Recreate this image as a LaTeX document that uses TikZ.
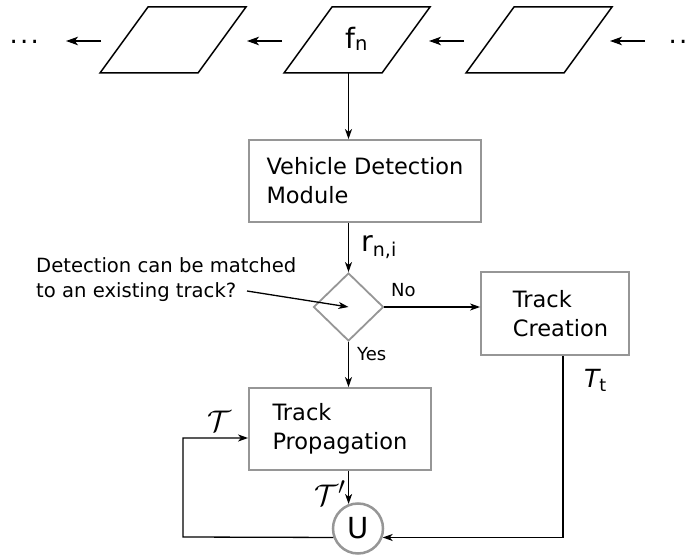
\documentclass[tikz,border=0pt]{standalone}
\usepackage{fontspec}
\setmainfont{DejaVu Sans}
\usetikzlibrary{arrows.meta,shapes.geometric}
\definecolor{bordergray}{RGB}{150,150,150}
\tikzset{
  box/.style={draw=bordergray, line width=1.8pt, align=left, font=\fontsize{22.5}{29}\selectfont},
  dia/.style={draw=bordergray, line width=1.8pt, diamond, minimum width=70pt, minimum height=68pt, inner sep=0pt},
  unode/.style={draw=bordergray, line width=2.5pt, circle, minimum size=50pt, inner sep=0pt, font=\fontsize{29}{30}\selectfont},
  conn/.style={draw, line width=1.3pt, -{Stealth[length=10pt,width=7pt,inset=2.8pt]}},
  tconn/.style={draw, line width=1.5pt, -{Stealth[length=12pt,width=8.5pt,inset=3.2pt]}},
  para/.style={draw, line width=1.5pt, line join=miter},
  lab/.style={inner sep=0pt, anchor=base west},
}
\newcommand{\calT}{\scalebox{1.2}{\Huge$\mathcal{T}$}}
\newcommand{\calTp}{\scalebox{1.2}{\Huge$\mathcal{T}'$}}
\begin{document}
\begin{tikzpicture}[x=1pt,y=-1pt]
\useasboundingbox (0,0) rectangle (686,556);
% frames
\draw[para] (100,73) -- (198,73) -- (246,7) -- (148,7) -- cycle;
\draw[para] (284,73) -- (382,73) -- (430,7) -- (332,7) -- cycle;
\draw[para] (466,73) -- (564,73) -- (612,7) -- (514,7) -- cycle;
\node[lab, font=\fontsize{28}{30}\selectfont] (fn) at (345,48.3) {f\raisebox{-2.5pt}{\fontsize{19.5}{20}\selectfont n}};
\node[lab, font=\fontsize{26}{28}\selectfont] (dl) at (9.5,44) {.\hspace{2.2pt}.\hspace{2.2pt}.};
\node[lab, font=\fontsize{26}{28}\selectfont] (dr) at (668.5,44) {.\hspace{2.2pt}.\hspace{2.2pt}.};
\coordinate (a1s) at (101,41); \coordinate (a1e) at (66,41);
\coordinate (a2s) at (282,41); \coordinate (a2e) at (247,41);
\coordinate (a3s) at (464,41); \coordinate (a3e) at (429,41);
\coordinate (a4s) at (645,41); \coordinate (a4e) at (610,41);
\draw[tconn] (a1s) -- (a1e);
\draw[tconn] (a2s) -- (a2e);
\draw[tconn] (a3s) -- (a3e);
\draw[tconn] (a4s) -- (a4e);
% boxes
\node[box, minimum width=232pt, minimum height=82pt] (vdm) at (365,181) {Vehicle Detection\\Module};
\node[box, minimum width=148pt, minimum height=83pt] (tc) at (555,313.5) {\hspace*{11pt}Track\\\hspace*{11pt}Creation};
\node[box, minimum width=182pt, minimum height=82pt] (tp) at (340,429) {Track\\Propagation};
\node[dia] (dm) at (348.5,307) {};
\node[unode] (u) at (358,528.5) {U};
% labels
\node[lab, font=\fontsize{28.5}{30}\selectfont] (rni) at (361,251.7) {r\raisebox{-5pt}{\fontsize{19}{20}\selectfont n,i}};
\node[lab, font=\fontsize{18}{20}\selectfont] (no) at (391,297) {No};
\node[lab, font=\fontsize{18}{20}\selectfont] (yes) at (357,360) {Yes};
\node[lab] (tl) at (207,431) {\calT};
\node[lab] (tpl) at (314,505) {\calTp};
\node[lab, font=\fontsize{25}{27}\selectfont] (ttl) at (584,387) {\itshape T\upshape\raisebox{-5pt}{\fontsize{17.5}{19}\selectfont t}};
\node[inner sep=0pt, anchor=north west, align=left, font=\fontsize{19.6}{25}\selectfont] (cm) at (36,257) {Detection can be matched\\to an existing track?};
% connectors
\coordinate (p2b) at (348.5,73);
\draw[conn] (p2b) -- (p2b |- vdm.north);
\draw[conn] (dm.north |- vdm.south) -- (dm.north);
\draw[conn] (dm.east) -- (dm.east -| tc.west);
\draw[conn] (dm.south) -- (dm.south |- tp.north);
\coordinate (cmend) at (247,291);
\draw[conn] (cmend) -- (dm.center);
\draw[conn] (u.111 |- tp.south) -- (u.111);
\draw[conn] ([xshift=8pt]tc.south) |- (u.340);
\coordinate (loopc) at (183,537);
\draw[conn] (u.200) -- (loopc) |- ([yshift=-9pt]tp.west);
\end{tikzpicture}
\end{document}
